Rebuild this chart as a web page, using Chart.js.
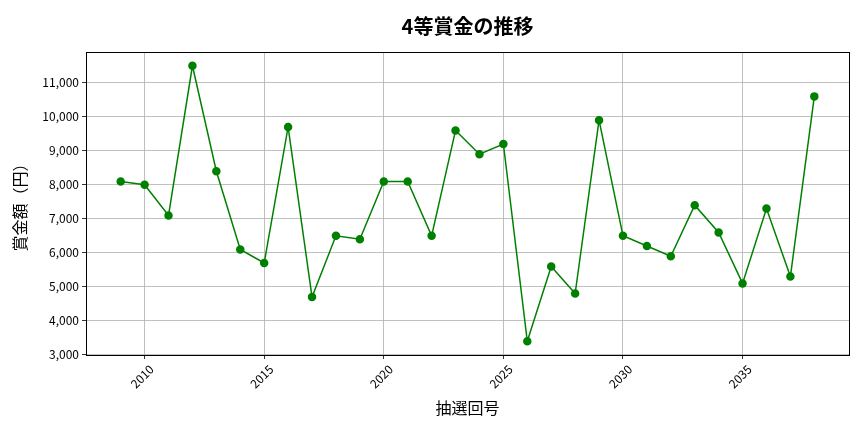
<!DOCTYPE html>
<html>
<head>
<meta charset="utf-8">
<script src="https://cdn.jsdelivr.net/npm/chart.js@4.4.0/dist/chart.umd.min.js"></script>
<style>
  html, body { margin: 0; padding: 0; background: #fff; }
  #wrap { width: 864px; height: 432px; }
</style>
</head>
<body>
<div id="wrap"><canvas id="myChart"></canvas></div>
<script>
const ctx = document.getElementById('myChart').getContext('2d');

// 抽選回号と4等賞金（円）
const kaigou = [2009, 2010, 2011, 2012, 2013, 2014, 2015, 2016, 2017, 2018,
    2019, 2020, 2021, 2022, 2023, 2024, 2025, 2026, 2027, 2028,
    2029, 2030, 2031, 2032, 2033, 2034, 2035, 2036, 2037, 2038];
const shoukin = [8100, 8000, 7100, 11500, 8400, 6100, 5700, 9700, 4700, 6500,
    6400, 8100, 8100, 6500, 9600, 8900, 9200, 3400, 5600, 4800,
    9900, 6500, 6200, 5900, 7400, 6600, 5100, 7300, 5300, 10600];
const xTicks = [2010, 2015, 2020, 2025, 2030, 2035];
const yTicks = [3000, 4000, 5000, 6000, 7000, 8000, 9000, 10000, 11000];

const fuente = "'Noto Sans CJK JP', 'Noto Sans', sans-serif";

// marco completo alrededor del area del grafico + titulo
const marcoPlugin = {
    id: 'marco',
    afterDraw(chart) {
        const a = chart.chartArea;
        const c = chart.ctx;
        c.save();
        c.strokeStyle = '#000';
        c.lineWidth = 1;
        c.strokeRect(a.left + 0.5, a.top + 0.5, a.right - a.left, a.bottom - a.top);
        c.fillStyle = '#000';
        c.font = "bold 20px " + fuente;
        c.textAlign = 'center';
        c.textBaseline = 'middle';
        c.fillText('4等賞金の推移', (a.left + a.right) / 2, 26);
        c.restore();
    }
};

const datos = kaigou.map((k, i) => ({ x: k, y: shoukin[i] }));

new Chart(ctx, {
    type: 'line',
    data: {
        datasets: [{
            label: '4等',
            data: datos,
            borderColor: '#008000',
            backgroundColor: '#008000',
            borderWidth: 1.5,
            pointRadius: 3.5,
            pointHoverRadius: 3.5,
            tension: 0
        }]
    },
    options: {
        responsive: true,
        maintainAspectRatio: false,
        animation: false,
        layout: { padding: { top: 52, right: 15, left: 0, bottom: 0 } },
        plugins: {
            legend: { display: false },
            tooltip: { enabled: false }
        },
        scales: {
            x: {
                type: 'linear',
                min: 2007.55,
                max: 2039.45,
                afterBuildTicks: (s) => { s.ticks = xTicks.map(v => ({ value: v })); },
                afterFit: (s) => { s.height = 77; },
                ticks: {
                    minRotation: 45,
                    maxRotation: 45,
                    labelOffset: 7,
                    color: '#000',
                    font: { family: fuente, size: 12 },
                    callback: (v) => String(v)
                },
                grid: { color: '#b0b0b0', lineWidth: 0.8, tickLength: 4, tickColor: '#000' },
                border: { color: '#000' },
                title: {
                    display: true,
                    text: '抽選回号',
                    color: '#000',
                    font: { family: fuente, size: 16 },
                    padding: { top: 0, bottom: 14 }
                }
            },
            y: {
                min: 2995,
                max: 11905,
                afterBuildTicks: (s) => { s.ticks = yTicks.map(v => ({ value: v })); },
                afterFit: (s) => { s.width = 86; },
                ticks: {
                    color: '#000',
                    font: { family: fuente, size: 12 },
                    callback: (v) => v.toLocaleString('en-US')
                },
                grid: { color: '#b0b0b0', lineWidth: 0.8, tickLength: 4, tickColor: '#000' },
                border: { color: '#000' },
                title: {
                    display: true,
                    text: '賞金額（円）',
                    color: '#000',
                    font: { family: fuente, size: 16 },
                    padding: { top: 10, bottom: 0 }
                }
            }
        }
    },
    plugins: [marcoPlugin]
});
</script>
</body>
</html>
